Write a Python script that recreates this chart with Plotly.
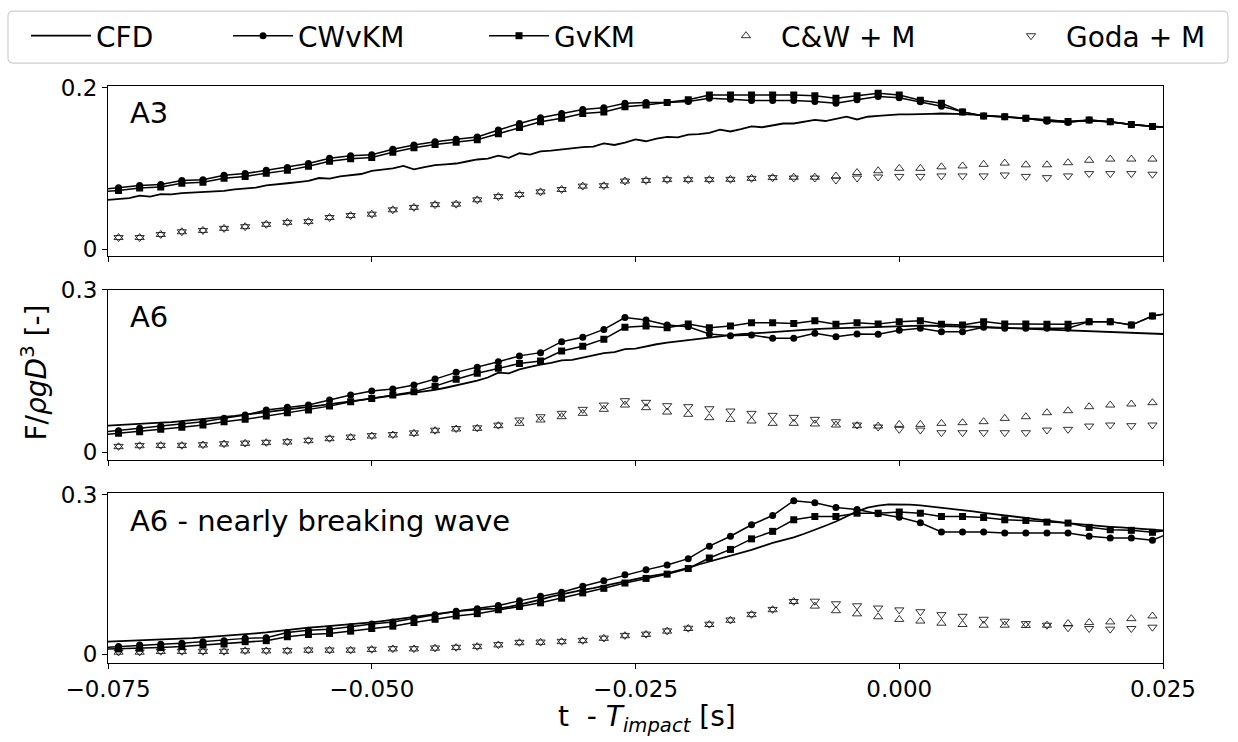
import numpy as np
import plotly.graph_objects as go

# ---------------------------------------------------------------- data
# time grid of the model series (every 2 ms), one extra sample on each side
t_model = np.round(np.arange(-0.076, 0.0261, 0.002), 3)
# time grid of the CFD signal (every 1 ms)
t_cfd = np.round(np.arange(-0.075, 0.0251, 0.001), 3)
# the semi-empirical models are shown only inside the window
t_semi = t_model[1:51]

# ---- A3
cfd_a3 = [
    0.0610, 0.0620, 0.0632, 0.0662, 0.0650, 0.0680, 0.0678, 0.0692, 0.0700, 0.0706,
    0.0717, 0.0722, 0.0740, 0.0752, 0.0760, 0.0790, 0.0800, 0.0815, 0.0830, 0.0845,
    0.0880, 0.0872, 0.0900, 0.0915, 0.0930, 0.0970, 0.0985, 0.1000, 0.1030, 0.0987,
    0.1015, 0.1040, 0.1050, 0.1060, 0.1085, 0.1110, 0.1120, 0.1157, 0.1130, 0.1187,
    0.1170, 0.1210, 0.1220, 0.1237, 0.1250, 0.1262, 0.1270, 0.1310, 0.1290, 0.1320,
    0.1360, 0.1336, 0.1370, 0.1390, 0.1385, 0.1417, 0.1425, 0.1440, 0.1480, 0.1457,
    0.1485, 0.1520, 0.1510, 0.1535, 0.1556, 0.1556, 0.1580, 0.1600, 0.1587, 0.1615,
    0.1640, 0.1606, 0.1640, 0.1650, 0.1660, 0.1670, 0.1670, 0.1670, 0.1675, 0.1680,
    0.1680, 0.1673, 0.1665, 0.1655, 0.1645, 0.1640, 0.1630, 0.1620, 0.1605, 0.1595,
    0.1588, 0.1580, 0.1585, 0.1590, 0.1585, 0.1577, 0.1560, 0.1543, 0.1530, 0.1520,
    0.1510,
]
cwvkm_a3 = [
    0.0735, 0.0759, 0.0788, 0.0800, 0.0850, 0.0860, 0.0914, 0.0935, 0.0977, 0.1010,
    0.1060, 0.1124, 0.1157, 0.1170, 0.1237, 0.1290, 0.1330, 0.1360, 0.1390, 0.1475,
    0.1556, 0.1627, 0.1680, 0.1730, 0.1750, 0.1806, 0.1816, 0.1816, 0.1830, 0.1870,
    0.1857, 0.1840, 0.1840, 0.1840, 0.1830, 0.1806, 0.1850, 0.1890, 0.1875, 0.1825,
    0.1770, 0.1700, 0.1650, 0.1640, 0.1620, 0.1585, 0.1570, 0.1600, 0.1577, 0.1543,
    0.1520, 0.1500,
]
gvkm_a3 = [
    0.0705, 0.0725, 0.0755, 0.0768, 0.0815, 0.0828, 0.0878, 0.0900, 0.0940, 0.0975,
    0.1025, 0.1088, 0.1120, 0.1135, 0.1200, 0.1255, 0.1295, 0.1325, 0.1355, 0.1430,
    0.1505, 0.1577, 0.1620, 0.1680, 0.1700, 0.1765, 0.1786, 0.1816, 0.1850, 0.1910,
    0.1910, 0.1910, 0.1910, 0.1910, 0.1900, 0.1870, 0.1900, 0.1930, 0.1910, 0.1845,
    0.1806, 0.1700, 0.1650, 0.1640, 0.1620, 0.1600, 0.1580, 0.1600, 0.1577, 0.1543,
    0.1520, 0.1500,
]
cw_a3 = [
    0.0142, 0.0142, 0.0180, 0.0214, 0.0230, 0.0256, 0.0277, 0.0306, 0.0330, 0.0340,
    0.0390, 0.0415, 0.0432, 0.0486, 0.0516, 0.0550, 0.0556, 0.0610, 0.0650, 0.0675,
    0.0709, 0.0738, 0.0780, 0.0785, 0.0843, 0.0850, 0.0860, 0.0860, 0.0860, 0.0864,
    0.0876, 0.0885, 0.0890, 0.0890, 0.0905, 0.0948, 0.0970, 0.1000, 0.1000, 0.1019,
    0.1030, 0.1050, 0.1065, 0.1044, 0.1044, 0.1070, 0.1100, 0.1115, 0.1115, 0.1115,
]
goda_a3 = [
    0.0142, 0.0142, 0.0180, 0.0214, 0.0230, 0.0256, 0.0277, 0.0306, 0.0330, 0.0340,
    0.0390, 0.0415, 0.0432, 0.0486, 0.0516, 0.0550, 0.0556, 0.0610, 0.0650, 0.0675,
    0.0709, 0.0738, 0.0780, 0.0785, 0.0843, 0.0850, 0.0860, 0.0860, 0.0860, 0.0864,
    0.0876, 0.0885, 0.0880, 0.0880, 0.0855, 0.0880, 0.0893, 0.0900, 0.0900, 0.0906,
    0.0906, 0.0906, 0.0918, 0.0900, 0.0885, 0.0906, 0.0935, 0.0935, 0.0935, 0.0927,
]

# ---- A6
cfd_a6 = [
    0.0490, 0.0498, 0.0510, 0.0520, 0.0532, 0.0543, 0.0555, 0.0572, 0.0588, 0.0605,
    0.0624, 0.0645, 0.0668, 0.0692, 0.0718, 0.0745, 0.0768, 0.0790, 0.0812, 0.0835,
    0.0858, 0.0885, 0.0912, 0.0940, 0.0968, 0.0994, 0.1018, 0.1042, 0.1068, 0.1092,
    0.1117, 0.1150, 0.1190, 0.1230, 0.1275, 0.1320, 0.1380, 0.1470, 0.1455, 0.1530,
    0.1575, 0.1620, 0.1650, 0.1695, 0.1705, 0.1750, 0.1790, 0.1830, 0.1850, 0.1905,
    0.1915, 0.1960, 0.1995, 0.2025, 0.2050, 0.2075, 0.2100, 0.2123, 0.2145, 0.2165,
    0.2180, 0.2195, 0.2210, 0.2225, 0.2240, 0.2255, 0.2265, 0.2275, 0.2285, 0.2292,
    0.2300, 0.2310, 0.2318, 0.2325, 0.2330, 0.2335, 0.2338, 0.2340, 0.2338, 0.2335,
    0.2332, 0.2328, 0.2320, 0.2315, 0.2305, 0.2298, 0.2290, 0.2280, 0.2272, 0.2262,
    0.2255, 0.2245, 0.2238, 0.2230, 0.2222, 0.2215, 0.2208, 0.2200, 0.2195, 0.2190,
    0.2185,
]
cwvkm_a6 = [
    0.0360, 0.0395, 0.0438, 0.0480, 0.0519, 0.0562, 0.0624, 0.0685, 0.0778, 0.0827,
    0.0870, 0.0963, 0.1056, 0.1130, 0.1167, 0.1240, 0.1350, 0.1475, 0.1568, 0.1670,
    0.1780, 0.1840, 0.2043, 0.2123, 0.2270, 0.2490, 0.2444, 0.2350, 0.2320, 0.2185,
    0.2154, 0.2167, 0.2105, 0.2105, 0.2198, 0.2136, 0.2185, 0.2182, 0.2255, 0.2290,
    0.2228, 0.2228, 0.2310, 0.2290, 0.2290, 0.2290, 0.2290, 0.2414, 0.2414, 0.2350,
    0.2518, 0.2586,
]
gvkm_a6 = [
    0.0310, 0.0346, 0.0377, 0.0420, 0.0457, 0.0500, 0.0562, 0.0605, 0.0667, 0.0728,
    0.0778, 0.0850, 0.0930, 0.0990, 0.1056, 0.1117, 0.1220, 0.1346, 0.1457, 0.1550,
    0.1640, 0.1685, 0.1870, 0.1960, 0.2090, 0.2310, 0.2333, 0.2300, 0.2370, 0.2300,
    0.2333, 0.2395, 0.2395, 0.2380, 0.2430, 0.2364, 0.2395, 0.2370, 0.2414, 0.2430,
    0.2364, 0.2350, 0.2414, 0.2370, 0.2370, 0.2364, 0.2364, 0.2414, 0.2414, 0.2350,
    0.2518, 0.2586,
]
cw_a6 = [
    0.0099, 0.0117, 0.0120, 0.0120, 0.0130, 0.0148, 0.0160, 0.0173, 0.0185, 0.0210,
    0.0247, 0.0270, 0.0296, 0.0315, 0.0346, 0.0395, 0.0426, 0.0438, 0.0488, 0.0531,
    0.0593, 0.0654, 0.0716, 0.0790, 0.0870, 0.0821, 0.0740, 0.0698, 0.0636, 0.0605,
    0.0574, 0.0531, 0.0531, 0.0519, 0.0500, 0.0488, 0.0481, 0.0512, 0.0512, 0.0531,
    0.0543, 0.0562, 0.0623, 0.0654, 0.0728, 0.0765, 0.0840, 0.0870, 0.0889, 0.0914,
]
goda_a6 = [
    0.0105, 0.0122, 0.0126, 0.0126, 0.0136, 0.0154, 0.0166, 0.0180, 0.0192, 0.0217,
    0.0254, 0.0278, 0.0304, 0.0324, 0.0355, 0.0404, 0.0435, 0.0448, 0.0498, 0.0593,
    0.0654, 0.0716, 0.0790, 0.0870, 0.0951, 0.0920, 0.0858, 0.0840, 0.0802, 0.0759,
    0.0716, 0.0679, 0.0642, 0.0605, 0.0562, 0.0500, 0.0463, 0.0420, 0.0407, 0.0358,
    0.0358, 0.0358, 0.0358, 0.0358, 0.0407, 0.0420, 0.0481, 0.0500, 0.0488, 0.0500,
]

# ---- A6, nearly breaking wave
cfd_a6b = [
    0.0236, 0.0243, 0.0250, 0.0257, 0.0264, 0.0272, 0.0280, 0.0290, 0.0302, 0.0315,
    0.0328, 0.0342, 0.0358, 0.0375, 0.0392, 0.0410, 0.0433, 0.0458, 0.0484, 0.0500,
    0.0515, 0.0530, 0.0545, 0.0560, 0.0577, 0.0600, 0.0625, 0.0652, 0.0680, 0.0710,
    0.0735, 0.0760, 0.0785, 0.0808, 0.0828, 0.0845, 0.0852, 0.0860, 0.0890, 0.0935,
    0.0980, 0.1030, 0.1085, 0.1130, 0.1170, 0.1210, 0.1245, 0.1290, 0.1335, 0.1375,
    0.1415, 0.1455, 0.1490, 0.1525, 0.1575, 0.1625, 0.1690, 0.1745, 0.1800, 0.1850,
    0.1900, 0.1965, 0.2030, 0.2098, 0.2150, 0.2200, 0.2270, 0.2340, 0.2420, 0.2500,
    0.2590, 0.2690, 0.2760, 0.2800, 0.2824, 0.2828, 0.2820, 0.2806, 0.2785, 0.2765,
    0.2740, 0.2715, 0.2690, 0.2665, 0.2640, 0.2615, 0.2585, 0.2560, 0.2535, 0.2510,
    0.2490, 0.2470, 0.2450, 0.2430, 0.2415, 0.2400, 0.2390, 0.2378, 0.2365, 0.2350,
    0.2334,
]
cwvkm_a6b = [
    0.0120, 0.0143, 0.0174, 0.0186, 0.0205, 0.0236, 0.0255, 0.0298, 0.0310, 0.0410,
    0.0453, 0.0472, 0.0515, 0.0571, 0.0608, 0.0683, 0.0745, 0.0807, 0.0857, 0.0919,
    0.1005, 0.1092, 0.1167, 0.1279, 0.1384, 0.1496, 0.1589, 0.1682, 0.1800, 0.2036,
    0.2222, 0.2439, 0.2613, 0.2893, 0.2855, 0.2765, 0.2728, 0.2648, 0.2580, 0.2477,
    0.2303, 0.2303, 0.2303, 0.2284, 0.2284, 0.2284, 0.2284, 0.2222, 0.2191, 0.2191,
    0.2148, 0.2315,
]
gvkm_a6b = [
    0.0090, 0.0099, 0.0112, 0.0124, 0.0143, 0.0174, 0.0192, 0.0236, 0.0255, 0.0329,
    0.0372, 0.0391, 0.0434, 0.0484, 0.0528, 0.0596, 0.0658, 0.0720, 0.0764, 0.0838,
    0.0900, 0.0968, 0.1055, 0.1155, 0.1241, 0.1341, 0.1428, 0.1508, 0.1614, 0.1813,
    0.1974, 0.2173, 0.2315, 0.2533, 0.2595, 0.2595, 0.2657, 0.2657, 0.2680, 0.2657,
    0.2595, 0.2595, 0.2576, 0.2533, 0.2520, 0.2489, 0.2471, 0.2390, 0.2346, 0.2334,
    0.2297, 0.2346,
]
cw_a6b = [
    0.0037, 0.0037, 0.0050, 0.0050, 0.0050, 0.0050, 0.0062, 0.0062, 0.0062, 0.0074,
    0.0074, 0.0074, 0.0087, 0.0099, 0.0099, 0.0112, 0.0124, 0.0143, 0.0174, 0.0217,
    0.0223, 0.0236, 0.0255, 0.0298, 0.0348, 0.0372, 0.0434, 0.0484, 0.0559, 0.0639,
    0.0745, 0.0838, 0.0993, 0.0906, 0.0819, 0.0760, 0.0705, 0.0655, 0.0624, 0.0584,
    0.0559, 0.0546, 0.0546, 0.0540, 0.0546, 0.0577, 0.0596, 0.0608, 0.0670, 0.0720,
]
goda_a6b = [
    0.0043, 0.0043, 0.0056, 0.0056, 0.0056, 0.0056, 0.0068, 0.0068, 0.0068, 0.0080,
    0.0080, 0.0080, 0.0093, 0.0105, 0.0105, 0.0118, 0.0130, 0.0149, 0.0180, 0.0223,
    0.0229, 0.0242, 0.0261, 0.0304, 0.0354, 0.0378, 0.0440, 0.0490, 0.0565, 0.0645,
    0.0751, 0.0844, 0.0993, 0.0999, 0.0950, 0.0912, 0.0870, 0.0835, 0.0800, 0.0745,
    0.0714, 0.0658, 0.0621, 0.0577, 0.0546, 0.0497, 0.0484, 0.0472, 0.0484, 0.0509,
]

panels = [
    dict(label="A3", cfd=cfd_a3, cwvkm=cwvkm_a3, gvkm=gvkm_a3, cw=cw_a3, goda=goda_a3,
         ytick=0.2, yrange=[-0.0083, 0.2021]),
    dict(label="A6", cfd=cfd_a6, cwvkm=cwvkm_a6, gvkm=gvkm_a6, cw=cw_a6, goda=goda_a6,
         ytick=0.3, yrange=[-0.0154, 0.3006]),
    dict(label="A6 - nearly breaking wave", cfd=cfd_a6b, cwvkm=cwvkm_a6b, gvkm=gvkm_a6b,
         cw=cw_a6b, goda=goda_a6b, ytick=0.3, yrange=[-0.0166, 0.3032]),
]
series_names = ["CFD", "CWvKM", "GvKM", "C&W + M", "Goda + M"]

# ---------------------------------------------------------------- layout helpers
W, H = 1238, 742
ML, MR, MT, MB = 108, 75, 85, 79
PW, PH = W - ML - MR, H - MT - MB


def px_x(px):
    return (px - ML) / PW


def px_y(py):
    return (H - MB - py) / PH


domains = [[px_y(255), 1.0], [px_y(460), px_y(289)], [0.0, px_y(493)]]
FONT = "DejaVu Sans"
INK = "#000000"

fig = go.Figure()

for p, panel in enumerate(panels):
    xa = "x" if p == 0 else f"x{p + 1}"
    ya = "y" if p == 0 else f"y{p + 1}"
    first = p == 0
    fig.add_trace(go.Scatter(
        x=t_cfd, y=panel["cfd"], mode="lines", name=series_names[0],
        line=dict(color=INK, width=1.8), xaxis=xa, yaxis=ya,
        showlegend=first, legend="legend"))
    fig.add_trace(go.Scatter(
        x=t_model, y=panel["cwvkm"], mode="lines+markers", name=series_names[1],
        line=dict(color=INK, width=1.5), marker=dict(symbol="circle", size=7, color=INK),
        xaxis=xa, yaxis=ya, showlegend=first, legend="legend2"))
    fig.add_trace(go.Scatter(
        x=t_model, y=panel["gvkm"], mode="lines+markers", name=series_names[2],
        line=dict(color=INK, width=1.5), marker=dict(symbol="square", size=7, color=INK),
        xaxis=xa, yaxis=ya, showlegend=first, legend="legend3"))
    fig.add_trace(go.Scatter(
        x=t_semi, y=panel["cw"], mode="markers", name=series_names[3],
        marker=dict(symbol="triangle-up-open", size=8, color=INK, line=dict(width=0.8)),
        xaxis=xa, yaxis=ya, showlegend=first, legend="legend4"))
    fig.add_trace(go.Scatter(
        x=t_semi, y=panel["goda"], mode="markers", name=series_names[4],
        marker=dict(symbol="triangle-down-open", size=8, color=INK, line=dict(width=0.8)),
        xaxis=xa, yaxis=ya, showlegend=first, legend="legend5"))

    axis_common = dict(showline=True, mirror=True, linecolor=INK, linewidth=1,
                       ticks="outside", ticklen=5, tickwidth=1, tickcolor=INK,
                       showgrid=False, zeroline=False,
                       tickfont=dict(family=FONT, size=23, color=INK))
    key = "" if p == 0 else str(p + 1)
    fig.update_layout(**{
        f"xaxis{key}": dict(axis_common, domain=[0, 1], range=[-0.075, 0.025],
                            anchor=ya, tickvals=[-0.075, -0.05, -0.025, 0.0, 0.025],
                            tickformat=".3f", showticklabels=(p == 2),
                            matches=None if p == 0 else "x"),
        f"yaxis{key}": dict(axis_common, domain=domains[p], range=panel["yrange"],
                            anchor=xa, tickvals=[0, panel["ytick"]],
                            ticktext=["0", f"{panel['ytick']:.1f}"]),
    })
    fig.add_annotation(text=panel["label"], xref=f"{xa} domain", yref=f"{ya} domain",
                       x=0.019, y=0.838, xanchor="left", yanchor="middle", showarrow=False,
                       font=dict(family=FONT, size=29, color=INK))

# axis titles
fig.add_annotation(text="F/<i>ρgD</i><sup>3</sup> [-]", xref="paper", yref="paper",
                   x=px_x(35), y=px_y(372), textangle=-90, showarrow=False,
                   xanchor="center", yanchor="middle",
                   font=dict(family=FONT, size=28, color=INK))
fig.add_annotation(text="t\u00a0 - <i>T</i><sub><i>impact</i></sub> [s]", xref="paper",
                   yref="paper", x=px_x(647), y=px_y(719), showarrow=False,
                   xanchor="center", yanchor="middle",
                   font=dict(family=FONT, size=28, color=INK))

# one single-entry legend per series, laid out in a row inside a framed box
legend_left = [26, 228, 484, 711, 996]
legend_style = dict(orientation="h", xanchor="left", yanchor="middle", y=px_y(36),
                    bgcolor="rgba(0,0,0,0)", borderwidth=0, itemwidth=60,
                    font=dict(family=FONT, size=28, color=INK))
for i, lx in enumerate(legend_left):
    key = "legend" if i == 0 else f"legend{i + 1}"
    fig.update_layout(**{key: dict(legend_style, x=px_x(lx))})

# rounded frame around the legend row
x0, x1, y0, y1 = px_x(8), px_x(1228), px_y(62), px_y(10)
rx, ry = 5 / PW, 5 / PH
frame = (f"M{x0 + rx},{y0} L{x1 - rx},{y0} Q{x1},{y0} {x1},{y0 + ry} "
         f"L{x1},{y1 - ry} Q{x1},{y1} {x1 - rx},{y1} L{x0 + rx},{y1} "
         f"Q{x0},{y1} {x0},{y1 - ry} L{x0},{y0 + ry} Q{x0},{y0} {x0 + rx},{y0} Z")
fig.add_shape(type="path", path=frame, xref="paper", yref="paper",
              line=dict(color="#d0d0d0", width=1.2), fillcolor="rgba(0,0,0,0)")

fig.update_layout(width=W, height=H, margin=dict(l=ML, r=MR, t=MT, b=MB),
                  plot_bgcolor="white", paper_bgcolor="white",
                  font=dict(family=FONT, color=INK))

fig.write_html("out.html")
